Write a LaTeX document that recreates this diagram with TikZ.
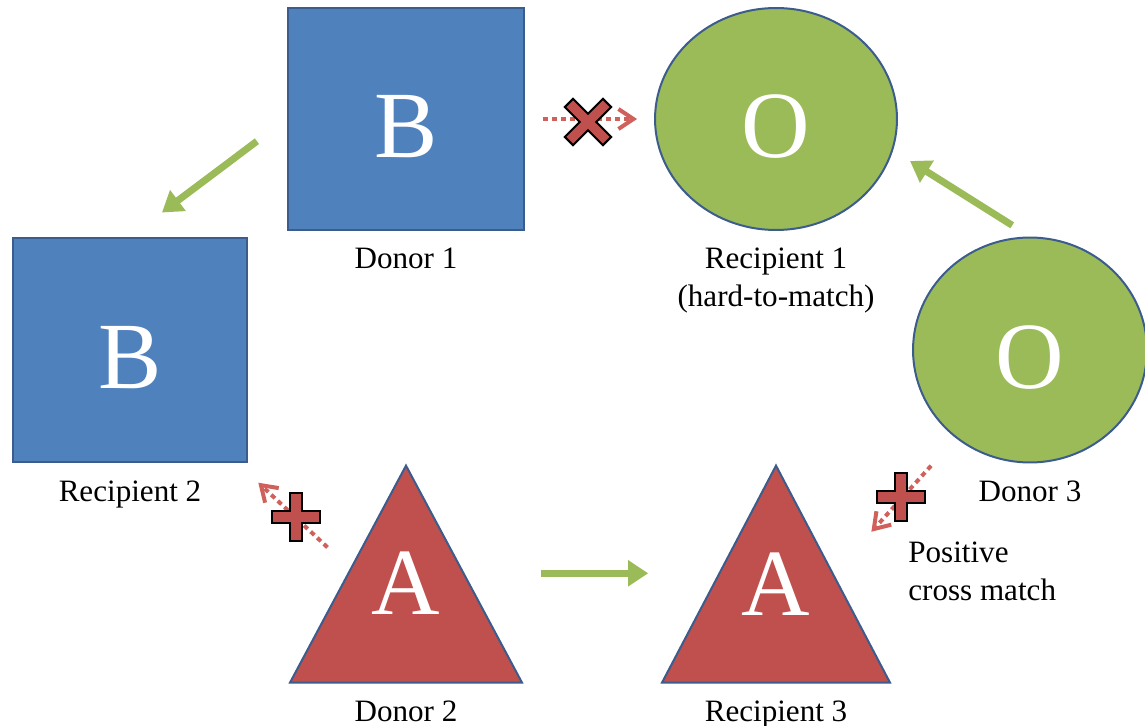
\documentclass[tikz,border=0pt]{standalone}
\usepackage{fontspec}
\setmainfont{Liberation Serif}
\usetikzlibrary{shapes,arrows.meta}
\definecolor{boxblue}{HTML}{4F81BD}
\definecolor{ballgreen}{HTML}{9BBB59}
\definecolor{tribred}{HTML}{C0504D}
\definecolor{rimblue}{HTML}{3B5C8C}
\definecolor{dotred}{HTML}{D0605C}
\tikzstyle{group} = [draw=rimblue, line width=0.04cm, text=white, font=\fontsize{54}{54}\selectfont, inner sep=0pt, text height=1.54cm]
\tikzstyle{bbox} = [group, fill=boxblue, rectangle]
\tikzstyle{oball} = [group, fill=ballgreen, ellipse]
\tikzstyle{atri} = [group, fill=tribred, isosceles triangle, isosceles triangle stretches, shape border rotate=90, anchor=apex, text height=0pt, text depth=0.56cm]
\tikzstyle{note} = [font=\fontsize{17.7}{21.5}\selectfont, align=left, inner sep=0pt]
\tikzstyle{match} = [draw=ballgreen, line width=0.14cm, -{Triangle[length=0.4cm,width=0.5cm]}]
\tikzstyle{nomatch} = [draw=dotred, line width=0.08cm, dash pattern=on 0.1cm off 0.08cm, -{Straight Barb[length=0.3cm,width=0.4cm]}]
\tikzset{
  plusmark/.pic={
    \draw [line width=0.27cm] (-25,0) -- (25,0) (0,-25) -- (0,25);
    \draw [line width=0.19cm, tribred] (-23,0) -- (23,0) (0,-23) -- (0,23);
  }
}

\begin{document}
\begin{tikzpicture}[x=0.02cm, y=-0.02cm, label distance=0.22cm,
  every label/.style={text=black, font=\fontsize{17.7}{21.5}\selectfont, text height=, text depth=}]
  \useasboundingbox (0,0) rectangle (1145,726);
  % nodes
  \node [bbox, name=donor1, minimum width=4.74cm, minimum height=4.44cm, label=below:Donor 1] at (406,119) {B};
  \node [oball, name=recip1, minimum width=4.84cm, minimum height=4.44cm, label={[align=center]below:Recipient 1\\(hard-to-match)}] at (776,119) {O};
  \node [bbox, name=recip2, minimum width=4.7cm, minimum height=4.5cm, label=below:Recipient 2] at (130,350) {B};
  \node [oball, name=donor3, minimum width=4.68cm, minimum height=4.5cm, label=below:Donor 3] at (1030,350) {O};
  \node [atri, name=donor2, minimum width=4.64cm, minimum height=4.34cm, label=below:Donor 2] at (406,463) {A};
  \node [atri, name=recip3, minimum width=4.56cm, minimum height=4.34cm, label=below:Recipient 3] at (776,463) {A};
  \node [note, name=crossmatch, anchor=west] at (908,571) {Positive\\cross match};
  % edges
  \draw [match, shorten <=0.74cm, shorten >=0.8cm] (donor1.west) -- (recip2.north);
  \draw [match, shorten <=0.42cm, shorten >=0.4cm] (donor3.north) -- (recip1.-15);
  \draw [match, shorten <=1.52cm, shorten >=1.4cm] (donor2.right side) -- (recip3.left side);
  \draw [nomatch, shorten <=0.54cm, shorten >=0.27cm] ([yshift=0.15cm]donor2.left side) -- ([yshift=-0.2cm]recip2.south east);
  \draw [nomatch, shorten <=0.74cm, shorten >=1.12cm] (donor3.230) -- (recip3.right side);
  \draw [nomatch, shorten <=0.36cm, shorten >=0.34cm] (donor1) -- (recip1);
  % blocked marks
  \pic [rotate=45, scale=1.12] at (588,122) {plusmark};
  \pic at (296,517) {plusmark};
  \pic at (901,497) {plusmark};
\end{tikzpicture}
\end{document}
